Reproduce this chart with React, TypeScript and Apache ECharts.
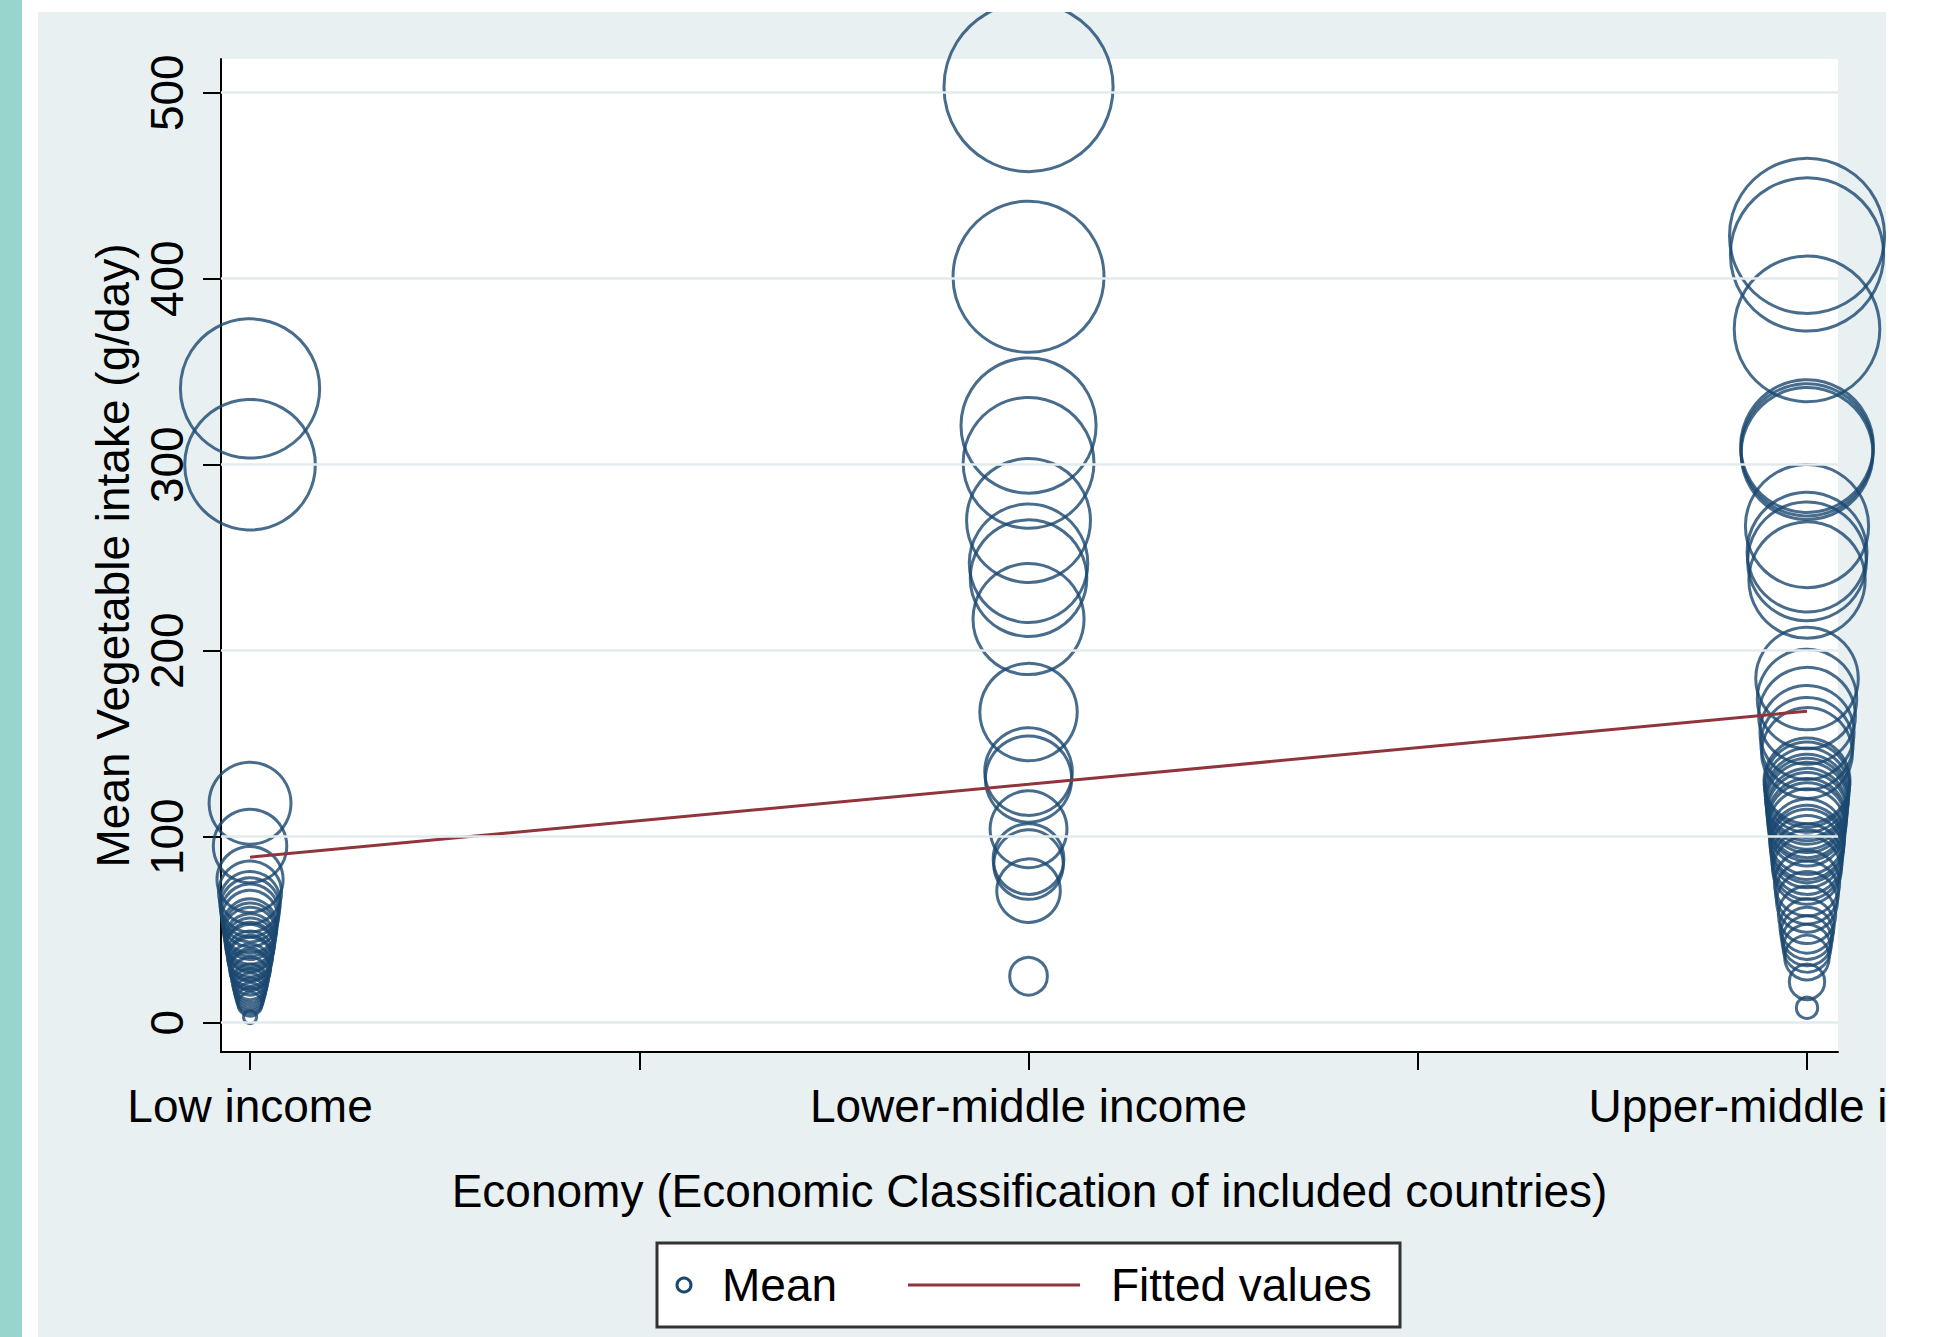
import React, { useEffect, useRef } from 'react';
import * as echarts from 'echarts';

// ---- Data ----
const categories = ['Low income', 'Lower-middle income', 'Upper-middle income'];
const categoryX = [1, 2, 3];

const lowIncomeMeans = [
  341, 300, 118, 95, 77, 70, 65, 62, 59, 56, 52, 50, 48, 45, 43, 41, 40, 37, 35, 34, 31, 29, 28, 25, 22, 20, 18, 16, 14,
  12, 10, 3,
];
const lowerMiddleMeans = [503, 401, 321, 301, 270, 247, 239, 217, 167, 135, 131, 104, 88, 85, 71, 25];
const upperMiddleMeans = [
  423, 413, 373, 310, 308, 306, 267, 253, 248, 238, 185, 174, 165, 156, 150, 145, 130, 128, 125, 122, 120, 118,
  115, 113, 110, 108, 105, 100, 97, 95, 92, 88, 85, 82, 75, 70, 65, 58, 52, 48, 44, 40, 35, 22, 8,
];

const fittedX = [1, 2, 3];
const fittedY = [89, 128.2, 167.5];

const yTickValues = [0, 100, 200, 300, 400, 500];
const xTickValues = [1, 1.5, 2, 2.5, 3];
const xLabelValues = [1, 2, 3];

const yTitle = 'Mean Vegetable intake (g/day)';
const xTitle = 'Economy (Economic Classification of included countries)';
const legendNames = ['Mean', 'Fitted values'];

// ---- Styles ----
const FONT = "'Liberation Sans', Arial, Helvetica, sans-serif";
const NAVY = '#1a476f';
const MAROON = '#90353b';
const BG = '#e8f0f2';
const GRID = '#e2ebee';
const FS = 46;

export default function App() {
  const ref = useRef<HTMLDivElement>(null);

  useEffect(() => {
    document.body.style.margin = '0';
    const chart = echarts.init(ref.current!, null, { renderer: 'svg' });

    const meanData: number[][] = [];
    [lowIncomeMeans, lowerMiddleMeans, upperMiddleMeans].forEach((arr, i) => {
      arr.forEach((v) => meanData.push([categoryX[i], v]));
    });
    const fittedData = fittedX.map((x, i) => [x, fittedY[i]]);

    const option: any = {
      animation: false,
      backgroundColor: 'transparent',
      textStyle: { fontFamily: FONT },
      grid: {
        left: 183,
        right: 48,
        top: 47,
        bottom: 285,
        show: true,
        backgroundColor: '#ffffff',
        borderWidth: 0,
        containLabel: false,
        outerBoundsMode: 'none',
      },
      xAxis: {
        type: 'value',
        min: 0.9627,
        max: 3.0398,
        axisLine: { show: true, onZero: false, lineStyle: { color: '#000', width: 2 } },
        axisTick: { show: true, length: 18, lineStyle: { color: '#000', width: 2 }, customValues: xTickValues },
        axisLabel: {
          show: true,
          customValues: xLabelValues,
          margin: 31,
          fontSize: FS,
          fontFamily: FONT,
          color: '#000',
          formatter: (v: number) => categories[Math.round(v) - 1] ?? '',
        },
        splitLine: { show: false },
        name: xTitle,
        nameLocation: 'middle',
        nameGap: 116,
        nameTextStyle: { fontSize: FS, fontFamily: FONT, color: '#000' },
      },
      yAxis: {
        type: 'value',
        min: -15.75,
        max: 518.1,
        axisLine: { show: true, onZero: false, lineStyle: { color: '#000', width: 2 } },
        axisTick: { show: true, length: 18, lineStyle: { color: '#000', width: 2 }, customValues: yTickValues },
        axisLabel: {
          show: true,
          customValues: yTickValues,
          rotate: 90,
          margin: 31,
          fontSize: FS,
          fontFamily: FONT,
          color: '#000',
        },
        splitLine: { show: false },
        name: yTitle,
        nameLocation: 'middle',
        nameGap: 80,
        nameTextStyle: { fontSize: FS, fontFamily: FONT, color: '#000' },
      },
      series: [
        {
          type: 'line',
          name: 'grid',
          data: [],
          silent: true,
          z: 1,
          markLine: {
            silent: true,
            symbol: ['none', 'none'],
            label: { show: false },
            lineStyle: { color: GRID, width: 2.5, type: 'solid' },
            emphasis: { disabled: true },
            data: yTickValues.map((v) => ({ yAxis: v })),
          },
        },
        {
          type: 'scatter',
          name: legendNames[0],
          data: meanData,
          clip: false,
          z: 3,
          symbol: 'circle',
          symbolSize: (val: number[]) => Math.max(13, 7.54 * Math.sqrt(val[1])),
          itemStyle: { color: 'rgba(0,0,0,0)', borderColor: NAVY, borderWidth: 3 },
          emphasis: { disabled: true },
        },
        {
          type: 'line',
          name: legendNames[1],
          data: fittedData,
          showSymbol: false,
          symbol: 'none',
          z: 4,
          lineStyle: { color: MAROON, width: 3 },
          emphasis: { disabled: true },
        },
      ],
      graphic: [
        {
          type: 'rect',
          shape: { x: 619, y: 1231, width: 743, height: 84 },
          style: { fill: '#ffffff', stroke: '#333333', lineWidth: 3 },
        },
        {
          type: 'circle',
          shape: { cx: 646, cy: 1273, r: 7 },
          style: { fill: 'none', stroke: NAVY, lineWidth: 3 },
        },
        {
          type: 'text',
          x: 684,
          y: 1273,
          style: { text: legendNames[0], fontSize: FS, fontFamily: FONT, fill: '#000', verticalAlign: 'middle', align: 'left' },
        },
        {
          type: 'line',
          shape: { x1: 870, y1: 1273, x2: 1042, y2: 1273 },
          style: { stroke: MAROON, lineWidth: 3 },
        },
        {
          type: 'text',
          x: 1073,
          y: 1273,
          style: { text: legendNames[1], fontSize: FS, fontFamily: FONT, fill: '#000', verticalAlign: 'middle', align: 'left' },
        },
      ],
    };

    chart.setOption(option);
    return () => chart.dispose();
  }, []);

  return (
    <div style={{ position: 'relative', width: 1943, height: 1337, background: '#ffffff', overflow: 'hidden' }}>
      <div style={{ position: 'absolute', left: 0, top: 0, width: 22, height: 1337, background: '#97d5cd' }} />
      <div
        ref={ref}
        style={{ position: 'absolute', left: 38, top: 12, width: 1848, height: 1325, background: BG, overflow: 'hidden' }}
      />
    </div>
  );
}
